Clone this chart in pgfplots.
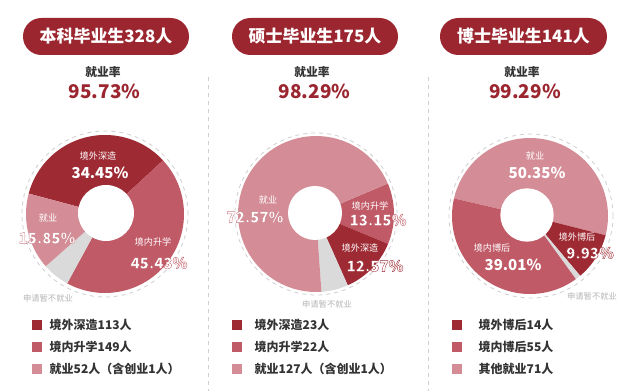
\documentclass[border=0pt]{standalone}
\usepackage{pgfplots}
\pgfplotsset{compat=1.18}
\usepackage{fontspec}
\setmainfont{Noto Sans CJK SC}
\newfontfamily\olfont{Noto Sans CJK SC}[UprightFont={* Black}, FakeBold=2.4]
% outlined white text: stroke colour (rgb), text
\newcommand{\ol}[2]{{\olfont\mdseries\special{pdf:bcolor [1 1 1] [#1]}#2\special{pdf:ecolor}}}
\definecolor{dred}{HTML}{9E2A33}
\definecolor{mred}{HTML}{C05A67}
\definecolor{lpink}{HTML}{D48D96}
\definecolor{lgray}{HTML}{DADADA}
\definecolor{pill}{HTML}{9B262F}
\definecolor{txt}{HTML}{333333}
\definecolor{faint}{HTML}{B5B5B5}
\definecolor{dashc}{HTML}{CFCFCF}
\def\cD{0.62 0.165 0.2}
\def\cM{0.753 0.353 0.404}
\def\cL{0.80 0.50 0.54}
% sector: cx, cy, R, end angle, start angle, colour
\newcommand{\sector}[6]{%
  \addplot[fill=#6, draw=none, domain=#4:#5, samples=60, variable=\t]
    ({#1+#3*cos(\t)},{#2-#3*sin(\t)}) -- (axis cs:#1,#2) -- cycle;}
\begin{document}
\begin{tikzpicture}
\begin{axis}[scale only axis, width=466.5pt, height=293.25pt,
  xmin=0, xmax=622, ymin=0, ymax=391, y dir=reverse, hide axis, clip=false]
\fill[white] (axis cs:0,0) rectangle (axis cs:622,391);
% dividers
\draw[color=dashc, dashed, line width=0.6pt] (axis cs:208,77) -- (axis cs:208,391);
\draw[color=dashc, dashed, line width=0.6pt] (axis cs:428,77) -- (axis cs:428,391);
% pills
\fill[pill, rounded corners=13.8pt] (axis cs:23,18) rectangle (axis cs:189,55);
\fill[pill, rounded corners=13.8pt] (axis cs:232,18) rectangle (axis cs:398,55);
\fill[pill, rounded corners=13.8pt] (axis cs:440,18) rectangle (axis cs:607,55);
\node[text=white, font=\fontsize{12.7pt}{14pt}\selectfont\bfseries] at (axis cs:106,36.5) {本科毕业生328人};
\node[text=white, font=\fontsize{12.7pt}{14pt}\selectfont\bfseries] at (axis cs:315,36.5) {硕士毕业生175人};
\node[text=white, font=\fontsize{12.7pt}{14pt}\selectfont\bfseries] at (axis cs:523.5,36.5) {博士毕业生141人};
% rates
\node[text=txt, font=\fontsize{8.8pt}{10pt}\selectfont\bfseries] at (axis cs:103,72) {就业率};
\node[text=txt, font=\fontsize{8.8pt}{10pt}\selectfont\bfseries] at (axis cs:312,72) {就业率};
\node[text=txt, font=\fontsize{8.8pt}{10pt}\selectfont\bfseries] at (axis cs:522,72) {就业率};
\node[text=pill, font=\fontsize{14.2pt}{16pt}\selectfont\bfseries] at (axis cs:104.5,91) {95.73\%};
\node[text=pill, font=\fontsize{14.2pt}{16pt}\selectfont\bfseries] at (axis cs:314.5,91) {98.29\%};
\node[text=pill, font=\fontsize{14.2pt}{16pt}\selectfont\bfseries] at (axis cs:525,91) {99.29\%};
% ---------- panel 1: 本科 ----------
\draw[color=dashc, dashed, line width=0.6pt] (axis cs:105,214) circle[radius=62.25pt];
\sector{105}{214}{79}{42.7}{165}{dred}
\sector{105}{214}{79}{-118.6}{42.7}{mred}
\sector{105}{214}{79}{-138.6}{-118.6}{lgray}
\sector{105}{214}{79}{-195}{-138.6}{lpink}
\fill[white] (axis cs:106,213) circle[radius=21pt];
% ---------- panel 2: 硕士 ----------
\draw[color=dashc, dashed, line width=0.6pt] (axis cs:316,214) circle[radius=60.75pt];
\sector{316}{214}{78}{-22.5}{23}{mred}
\sector{316}{214}{78}{-66}{-22.5}{dred}
\sector{316}{214}{78}{-86}{-66}{lgray}
\sector{316}{214}{78}{-337}{-86}{lpink}
\fill[white] (axis cs:315,213) circle[radius=20.25pt];
% ---------- panel 3: 博士 ----------
\draw[color=dashc, dashed, line width=0.6pt] (axis cs:531,216) circle[radius=61.5pt];
\sector{530}{216}{78}{-14.3}{167}{lpink}
\sector{530}{216}{78}{-50}{-14.3}{dred}
\sector{530}{216}{78}{-54}{-50}{lgray}
\sector{530}{216}{78}{-193}{-54}{mred}
\fill[white] (axis cs:527,215) circle[radius=20pt];
% ---------- donut labels ----------
\tikzset{nm/.style={text=white, font=\fontsize{6.9pt}{8pt}\selectfont},
         pc/.style={text=white, font=\fontsize{11.3pt}{12pt}\selectfont\bfseries},
         na/.style={text=faint, font=\fontsize{6.2pt}{7pt}\selectfont}}
\node[nm] at (axis cs:98,156) {境外深造};
\node[pc] at (axis cs:100,173) {34.45\%};
\node[nm] at (axis cs:48,218) {就业};
\node[pc] at (axis cs:47,238) {\ol{\cL}{15.85\%}};
\node[nm] at (axis cs:153,242) {境内升学};
\node[pc] at (axis cs:159,263) {\ol{\cM}{45.43\%}};
\node[na] at (axis cs:48,298) {申请暂不就业};
\node[nm] at (axis cs:268,200) {就业};
\node[pc] at (axis cs:255,217) {\ol{\cL}{72.57\%}};
\node[nm] at (axis cs:370,206) {境内升学};
\node[pc] at (axis cs:378,220) {\ol{\cM}{13.15\%}};
\node[nm] at (axis cs:360,248) {境外深造};
\node[pc] at (axis cs:375,266) {\ol{\cD}{12.57\%}};
\node[na] at (axis cs:327,304) {申请暂不就业};
\node[nm] at (axis cs:535,156) {就业};
\node[pc] at (axis cs:537,173) {50.35\%};
\node[nm] at (axis cs:577,237) {境外博后};
\node[pc] at (axis cs:590,253) {\ol{\cD}{9.93\%}};
\node[nm] at (axis cs:492,248) {境内博后};
\node[pc] at (axis cs:513,265) {39.01\%};
\node[na] at (axis cs:592,296) {申请暂不就业};
% ---------- legends ----------
\tikzset{lg/.style={text=txt, anchor=west, font=\fontsize{9pt}{10pt}\selectfont\bfseries}}
\fill[dred] (axis cs:32,320) rectangle (axis cs:42,330);
\fill[mred] (axis cs:32,342) rectangle (axis cs:42,352);
\fill[lpink] (axis cs:32,364) rectangle (axis cs:42,374);
\node[lg] at (axis cs:45,325) {境外深造113人};
\node[lg] at (axis cs:45,347) {境内升学149人};
\node[lg] at (axis cs:45,369) {就业52人（含创业1人）};
\fill[dred] (axis cs:232,320) rectangle (axis cs:242,330);
\fill[mred] (axis cs:232,342) rectangle (axis cs:242,352);
\fill[lpink] (axis cs:232,364) rectangle (axis cs:242,374);
\node[lg] at (axis cs:250,325) {境外深造23人};
\node[lg] at (axis cs:250,347) {境内升学22人};
\node[lg] at (axis cs:250,369) {就业127人（含创业1人）};
\fill[dred] (axis cs:452,320) rectangle (axis cs:462,330);
\fill[mred] (axis cs:452,342) rectangle (axis cs:462,352);
\fill[lpink] (axis cs:452,364) rectangle (axis cs:462,374);
\node[lg] at (axis cs:474,325) {境外博后14人};
\node[lg] at (axis cs:474,347) {境内博后55人};
\node[lg] at (axis cs:474,369) {其他就业71人};
\end{axis}
\end{tikzpicture}
\end{document}
